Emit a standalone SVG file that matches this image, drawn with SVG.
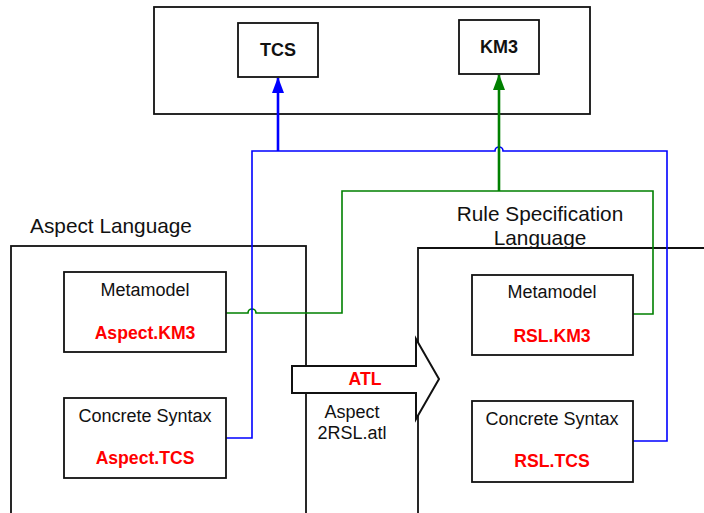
<svg xmlns="http://www.w3.org/2000/svg" width="704" height="513" viewBox="0 0 704 513">
<style>
.box{fill:#fff;stroke:#111;stroke-width:1.8}
.obox{fill:none;stroke:#111;stroke-width:1.8}
.t{font-family:"Liberation Sans",Arial,sans-serif;fill:#111;text-anchor:middle}
.n{font-size:18px}
.b{font-size:18px;font-weight:bold}
.r{font-size:17.6px;font-weight:bold;fill:#ff0000}
.big{font-size:20.8px}
.blue{fill:none;stroke:#0000ff;stroke-width:1.6}
.green{fill:none;stroke:#008000;stroke-width:1.6}
</style>
<defs>
<marker id="ab" markerUnits="userSpaceOnUse" markerWidth="16" markerHeight="12" viewBox="0 0 16 12" refX="15" refY="6" orient="auto"><path d="M0,0 L16,6 L0,12 z" fill="#0000ff"/></marker>
<marker id="ag" markerUnits="userSpaceOnUse" markerWidth="16" markerHeight="12" viewBox="0 0 16 12" refX="15" refY="6" orient="auto"><path d="M0,0 L16,6 L0,12 z" fill="#008000"/></marker>
</defs>
<rect width="704" height="513" fill="#fff"/>
<g id="top-container"><rect class="obox" x="154" y="7" width="436" height="107"/></g>
<g id="aspect-language"><rect class="obox" x="11" y="246" width="295" height="280"/><text class="t big" x="111" y="233">Aspect Language</text></g>
<g id="rsl-language"><path class="obox" d="M418,520 V248 H710"/><text class="t big" x="540" y="221">Rule Specification</text><text class="t big" x="540" y="245">Language</text></g>
<g id="connectors">
<path class="green" d="M226,313 H248 A4,4 0 0 1 256,313 H342 V191 H653 V314 H633"/>
<path class="blue" d="M226,438 H252 V151 H495 A4,4 0 0 1 503,151 H667 V441 H633"/>
<path fill="none" stroke="#0000ff" stroke-width="2.6" d="M278,151 V78" marker-end="url(#ab)"/>
<path fill="none" stroke="#008000" stroke-width="2.6" d="M499,191 V75" marker-end="url(#ag)"/>
</g>
<g id="tcs"><rect class="box" x="238" y="23" width="80" height="54"/><text class="t b" x="278" y="56">TCS</text></g>
<g id="km3"><rect class="box" x="459" y="20" width="80" height="54"/><text class="t b" x="499" y="53">KM3</text></g>
<g id="aspect-metamodel"><rect class="box" x="64" y="272" width="162" height="80"/><text class="t n" x="145" y="296">Metamodel</text><text class="t r" x="145" y="339">Aspect.KM3</text></g>
<g id="aspect-syntax"><rect class="box" x="64" y="398" width="162" height="80"/><text class="t n" x="145" y="422">Concrete Syntax</text><text class="t r" x="145" y="464">Aspect.TCS</text></g>
<g id="rsl-metamodel"><rect class="box" x="472" y="275" width="161" height="80"/><text class="t n" x="552" y="298">Metamodel</text><text class="t r" x="552" y="342">RSL.KM3</text></g>
<g id="rsl-syntax"><rect class="box" x="472" y="401" width="161" height="81"/><text class="t n" x="552" y="425">Concrete Syntax</text><text class="t r" x="552" y="467">RSL.TCS</text></g>
<g id="atl"><path fill="#fff" stroke="#111" stroke-width="2" d="M292,366 H416 V339 L439,379 L416,419 V393 H292 Z"/><text class="t r" x="365" y="385">ATL</text><text class="t n" x="352" y="418">Aspect</text><text class="t n" x="352" y="439">2RSL.atl</text></g>
</svg>
